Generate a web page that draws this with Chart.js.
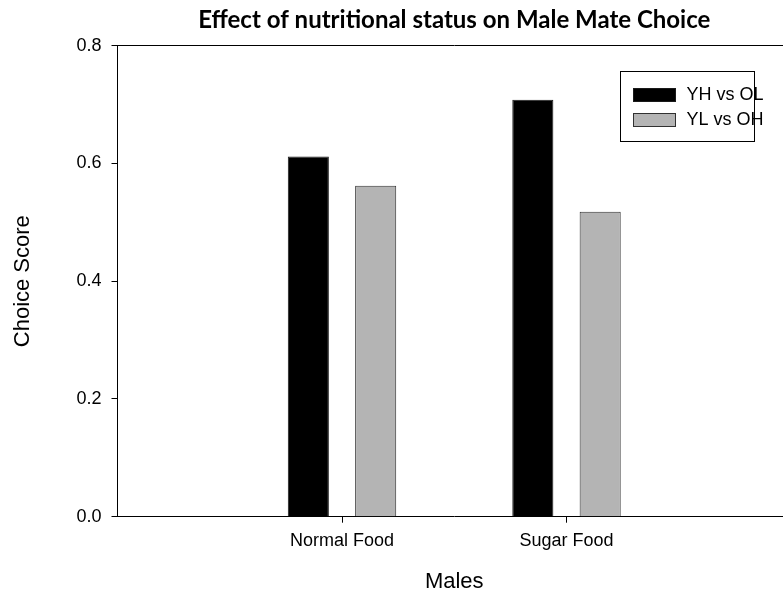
<!DOCTYPE html>
<html>
<head>
<meta charset="utf-8">
<title>Male Mate Choice</title>
<script src="https://cdn.jsdelivr.net/npm/chart.js@4"></script>
<style>
  html, body { margin: 0; padding: 0; background: #fff; overflow: hidden; }
</style>
</head>
<body>
<canvas id="choiceChart" width="800" height="597"></canvas>
<script>
// data
var categories = ['Normal Food', 'Sugar Food'];
var seriesNames = ['YH vs OL', 'YL vs OH'];
var yhVsOl = [0.612, 0.708];
var ylVsOh = [0.562, 0.518];
var yTicks = [0.0, 0.2, 0.4, 0.6, 0.8];

// empty slots on both sides so the two groups sit at 1/3 and 2/3 of the axis
var axisLabels = [''].concat(categories, ['']);

var FONT = "'Liberation Sans', Arial, sans-serif";

function toPoints(values) {
  return values.map(function (v, i) { return { x: categories[i], y: v }; });
}

// legend drawn inside the plot, with a frame
var boxLegend = {
  id: 'boxLegend',
  afterDraw: function (chart) {
    var ctx = chart.ctx;
    var a = chart.chartArea;
    var left = Math.round(a.right - 171) + 0.5;
    var top = Math.round(a.top + 25) + 0.5;
    ctx.save();
    ctx.lineWidth = 1;
    ctx.strokeStyle = '#000';
    ctx.strokeRect(left, top, 134, 70);
    ctx.font = '18px ' + FONT;
    ctx.textBaseline = 'middle';
    chart.data.datasets.forEach(function (ds, i) {
      var sy = top + 17 + i * 25;
      ctx.fillStyle = ds.backgroundColor;
      ctx.fillRect(left + 13, sy, 42, 13);
      ctx.strokeStyle = ds.borderColor;
      ctx.strokeRect(left + 13, sy, 42, 13);
      ctx.fillStyle = '#000';
      ctx.fillText(ds.label, left + 66, sy + 7);
    });
    ctx.restore();
  }
};

new Chart(document.getElementById('choiceChart'), {
  type: 'bar',
  data: {
    labels: axisLabels,
    datasets: [{
      label: seriesNames[0],
      data: toPoints(yhVsOl),
      backgroundColor: '#000000',
      borderColor: '#1a1a1a',
      borderWidth: 1
    }, {
      label: seriesNames[1],
      data: toPoints(ylVsOh),
      backgroundColor: '#b4b4b4',
      borderColor: '#303030',
      borderWidth: 1
    }]
  },
  options: {
    responsive: false,
    animation: false,
    layout: { padding: { left: 0, top: 0, right: 9, bottom: 0 } },
    datasets: {
      bar: { categoryPercentage: 0.6, barPercentage: 0.61 }
    },
    plugins: {
      legend: { display: false },
      tooltip: { enabled: false },
      title: {
        display: true,
        fullSize: false,
        text: 'Effect of nutritional status on Male Mate Choice',
        color: '#000',
        font: { family: 'Lato, sans-serif', size: 24, weight: 'bold', lineHeight: 1.2 },
        padding: { top: 6, bottom: 10.9 }
      }
    },
    scales: {
      x: {
        offset: false,
        border: { display: true, color: '#000', width: 1 },
        grid: {
          offset: false,
          drawOnChartArea: false,
          tickLength: 6,
          tickColor: function (c) { return c.tick && c.tick.label === '' ? 'rgba(0,0,0,0)' : '#000'; }
        },
        ticks: {
          color: '#000',
          padding: 8,
          maxRotation: 0,
          autoSkip: false,
          font: { family: FONT, size: 18 }
        },
        title: {
          display: true,
          text: 'Males',
          color: '#000',
          font: { family: FONT, size: 22 },
          padding: { top: 0, bottom: 2 }
        },
        afterFit: function (scale) { scale.height = 80.3; }
      },
      y: {
        min: 0,
        max: 0.8,
        border: { display: true, color: '#000', width: 1 },
        grid: {
          tickLength: 6,
          tickColor: '#000',
          color: function (c) { return c.tick && Math.abs(c.tick.value - 0.8) < 1e-6 ? '#000' : 'rgba(0,0,0,0)'; }
        },
        afterBuildTicks: function (scale) {
          scale.ticks = yTicks.map(function (v) { return { value: v }; });
        },
        ticks: {
          color: '#000',
          padding: 10,
          font: { family: FONT, size: 18 },
          callback: function (v) { return Number(v).toFixed(1); }
        },
        title: {
          display: true,
          text: 'Choice Score',
          color: '#000',
          font: { family: FONT, size: 22 },
          padding: { top: 10, bottom: 0 }
        },
        afterFit: function (scale) { scale.width = 117.5; }
      }
    }
  },
  plugins: [boxLegend]
});
</script>
</body>
</html>
